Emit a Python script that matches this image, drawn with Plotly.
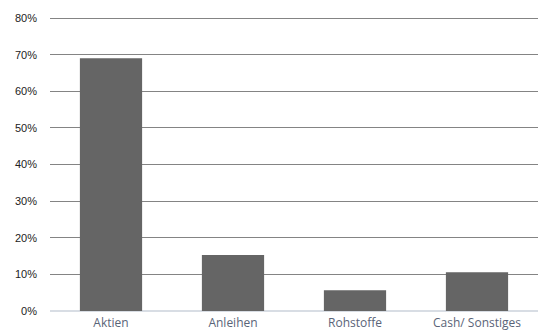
import plotly.graph_objects as go

categories = ["Aktien", "Anleihen", "Rohstoffe", "Cash/ Sonstiges"]
shares = [0.69, 0.153, 0.057, 0.106]
y_ticks = [0, 0.1, 0.2, 0.3, 0.4, 0.5, 0.6, 0.7, 0.8]

fig = go.Figure()

fig.add_trace(go.Bar(
    x=categories,
    y=shares,
    marker=dict(color="#656565", line=dict(width=0)),
    hoverinfo="skip",
))

fig.update_layout(
    width=538,
    height=335,
    margin=dict(l=50, r=0, t=17, b=24),
    paper_bgcolor="white",
    plot_bgcolor="white",
    bargap=0.49,
    showlegend=False,
    xaxis=dict(
        showgrid=False,
        showline=False,
        ticks="",
        ticklabelstandoff=3,
        tickfont=dict(family="Open Sans, sans-serif", size=12, color="#5a6478"),
    ),
    yaxis=dict(
        range=[0, 0.803],
        tickvals=y_ticks,
        tickformat=".0%",
        showgrid=True,
        gridcolor="#848484",
        gridwidth=1.3,
        zeroline=True,
        zerolinecolor="#d8dde4",
        zerolinewidth=2,
        ticks="",
        ticklabelstandoff=12,
        tickfont=dict(family="Liberation Sans, Arial, sans-serif", size=11, color="#222222"),
    ),
)

# drop the default body margin so the figure fills the window exactly
fig.write_html(
    "out.html",
    config={"displayModeBar": False},
    post_script="document.body.style.margin='0';document.body.style.overflow='hidden';",
)
